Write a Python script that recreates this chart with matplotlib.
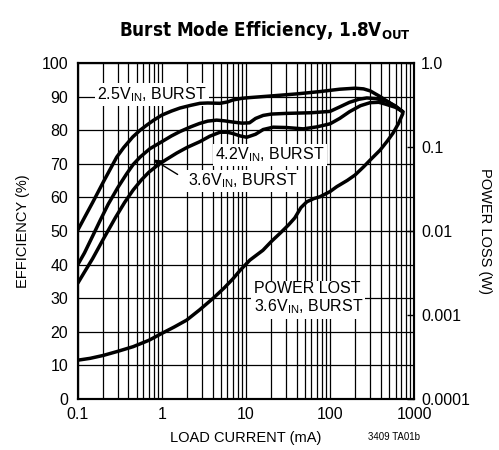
import matplotlib
matplotlib.use("Agg")
import matplotlib.pyplot as plt
from matplotlib import rcParams, font_manager
from matplotlib.ticker import LogLocator, NullFormatter, FixedLocator, NullLocator
import numpy as np

# Efficiency data (load current mA, efficiency %)
current_25 = [0.1, 0.12, 0.15, 0.2, 0.25, 0.29, 0.35, 0.45, 0.55, 0.66, 0.8, 1.0, 1.3, 1.64, 2.2, 2.83,
              3.5, 4.9, 6, 7, 9, 11, 20, 40, 76, 130, 198, 250, 300, 394, 500, 600, 733]
eff_25 = [50.3, 54, 58.5, 64.5, 69, 72, 74.8, 78, 80, 81.5, 83, 84.5, 85.7, 86.6, 87.4, 88,
          88.1, 88, 88.4, 89, 89.5, 89.7, 90.2, 90.8, 91.5, 92.2, 92.5, 92.3, 91.7, 90, 88.3, 87, 85.5]

current_36 = [0.1, 0.12, 0.15, 0.183, 0.23, 0.3, 0.38, 0.455, 0.55, 0.72, 1.0, 1.3, 1.64, 2.2, 2.8, 3.5,
              4.47, 5.5, 7.1, 9, 11, 13, 16, 20, 30, 60, 100, 132, 170, 220, 273, 350, 473, 600, 733]
eff_36 = [40, 43.5, 48.5, 53, 58, 63, 67, 69.8, 72, 74.5, 76.6, 78.3, 79.6, 81, 82, 82.7,
          83, 82.8, 82.4, 82.1, 82.2, 83.5, 84.4, 84.8, 85, 85.2, 85.6, 87, 88.3, 89.2, 89.6, 89.4, 88.6, 87.2, 85.5]

current_42 = [0.1, 0.12, 0.15, 0.2, 0.28, 0.36, 0.455, 0.57, 0.7, 0.9, 1.13, 1.5, 2.0, 2.83, 3.7, 4.9,
              6, 7, 8.5, 10.2, 13, 16, 21, 30, 48, 70, 100, 130, 170, 230, 300, 380, 450, 600, 733]
eff_42 = [34.5, 37.8, 41.8, 47.5, 54, 58.5, 62.2, 65.2, 67.5, 69.7, 71.3, 73.2, 74.9, 76.6, 78.2, 79.4,
          79.4, 79, 78.3, 77.9, 78.8, 80.2, 80.9, 80.8, 80.4, 81, 81.9, 83.5, 85.5, 87.3, 88.2, 88.3, 87.8, 86.8, 85.5]

# Power loss data (load current mA, power loss W)
current_loss = [0.1, 0.14, 0.2, 0.3, 0.455, 0.7, 1.0, 1.4, 1.97, 2.8, 4.06, 5.5, 7, 8.5, 11.1, 15.9,
                20, 25.4, 32, 38, 45, 53, 64, 76, 100, 120, 160, 198, 250, 300, 394, 480, 562, 650, 733]
power_loss = [0.00029, 0.000305, 0.00033, 0.00037, 0.00042, 0.0005, 0.000605, 0.00072, 0.00087, 0.00115,
              0.00158, 0.0021, 0.0027, 0.0034, 0.0045, 0.0059, 0.0075, 0.0094, 0.0118, 0.0143, 0.019,
              0.0223, 0.0243, 0.0256, 0.0295, 0.0337, 0.040, 0.0464, 0.058, 0.070, 0.092, 0.118, 0.147, 0.19, 0.25]

eff_ticks = [0, 10, 20, 30, 40, 50, 60, 70, 80, 90, 100]
x_ticks = [0.1, 1, 10, 100, 1000]
x_labels = ["0.1", "1", "10", "100", "1000"]
loss_ticks = [1.0, 0.1, 0.01, 0.001, 0.0001]
loss_labels = ["1.0", "0.1", "0.01", "0.001", "0.0001"]


# pick a narrow/condensed face if one is installed
def pick_font(weight):
    for fam, stretch in [("Liberation Sans Narrow", "normal"), ("DejaVu Sans", "condensed")]:
        fp = font_manager.FontProperties(family=fam, weight=weight, stretch=stretch)
        try:
            path = font_manager.findfont(fp, fallback_to_default=False)
        except ValueError:
            continue
        if "Narrow" in path or "Condensed" in path:
            return font_manager.FontProperties(fname=path), True
    fp = font_manager.FontProperties(family="Liberation Sans", weight=weight)
    return font_manager.FontProperties(fname=font_manager.findfont(fp)), False


if __name__ == "__main__":
    rcParams["font.family"] = ["Liberation Sans", "DejaVu Sans"]
    rcParams["axes.linewidth"] = 1.5
    rcParams["mathtext.fontset"] = "custom"
    rcParams["mathtext.rm"] = "Liberation Sans"

    title_fp, title_narrow = pick_font("bold")
    title_fp.set_size(13.5 if title_narrow else 14)

    fig = plt.figure(figsize=(4.99, 4.5), dpi=100)
    ax = fig.add_axes([0.156, 0.1133, 0.674, 0.7467])

    # curves
    for xs, ys in [(current_25, eff_25), (current_36, eff_36), (current_42, eff_42)]:
        ax.plot(xs, ys, color="black", lw=2.5, solid_capstyle="round", solid_joinstyle="round", zorder=4)

    ax.set_xscale("log")
    ax.set_xlim(0.1, 1000)
    ax.set_ylim(0, 100)
    ax.set_xticks(x_ticks)
    ax.set_xticklabels(x_labels)
    ax.xaxis.set_minor_locator(LogLocator(base=10, subs=np.arange(2, 10)))
    ax.xaxis.set_minor_formatter(NullFormatter())
    ax.set_yticks(eff_ticks)
    ax.set_axisbelow(True)
    ax.grid(True, which="both", axis="x", color="black", lw=0.9, zorder=0.5)
    ax.grid(True, which="major", axis="y", color="black", lw=0.9, zorder=0.5)
    ax.tick_params(which="both", length=0, labelsize=11.5)
    ax.tick_params(axis="x", pad=6)
    ax.tick_params(axis="y", pad=7)
    ax.set_xlabel("LOAD CURRENT (mA)", fontsize=10.5, labelpad=6)
    ax.set_ylabel("EFFICIENCY (%)", fontsize=10.5, labelpad=8)

    box = dict(facecolor="white", edgecolor="none", pad=1.5)
    ax.text(0.76, 90.5, "2.5V$_{\\mathregular{IN}}$, BURST", ha="center", va="center",
            fontsize=11.5, bbox=box, zorder=3)
    ax.text(19.3, 72.6, "4.2V$_{\\mathregular{IN}}$, BURST", ha="center", va="center",
            fontsize=11.5, bbox=box, zorder=3)
    ax.text(9.2, 64.9, "3.6V$_{\\mathregular{IN}}$, BURST", ha="center", va="center",
            fontsize=11.5, bbox=box, zorder=3)
    ax.text(12.3, 29.8, "POWER LOST\n3.6V$_{\\mathregular{IN}}$, BURST", ha="left", va="center",
            fontsize=11.5, bbox=box, zorder=3, linespacing=1.1)
    ax.annotate("", xy=(0.74, 71.7), xytext=(1.64, 66.4),
                arrowprops=dict(arrowstyle="-|>", color="black", lw=1, mutation_scale=12), zorder=5)

    # power loss on right axis
    ax2 = ax.twinx()
    ax2.set_yscale("log")
    ax2.set_ylim(0.0001, 1.0)
    ax2.plot(current_loss, power_loss, color="black", lw=2.5, solid_capstyle="round",
             solid_joinstyle="round", zorder=4)
    ax2.yaxis.set_major_locator(FixedLocator(loss_ticks))
    ax2.set_yticklabels(loss_labels)
    ax2.yaxis.set_minor_locator(NullLocator())
    ax2.tick_params(axis="y", direction="in", length=5, width=1, labelsize=11.5, pad=5)
    ax2.set_ylabel("POWER LOSS (W)", fontsize=10.5, rotation=-90, labelpad=16)

    fig.text(0.531, 0.933, "Burst Mode Efficiency, 1.8V$_{\\mathregular{OUT}}$", ha="center", va="center",
             fontproperties=title_fp)
    fig.text(0.79, 0.028, "3409 TA01b", ha="center", va="center", fontsize=7)

    plt.savefig("out.png", dpi=100)
